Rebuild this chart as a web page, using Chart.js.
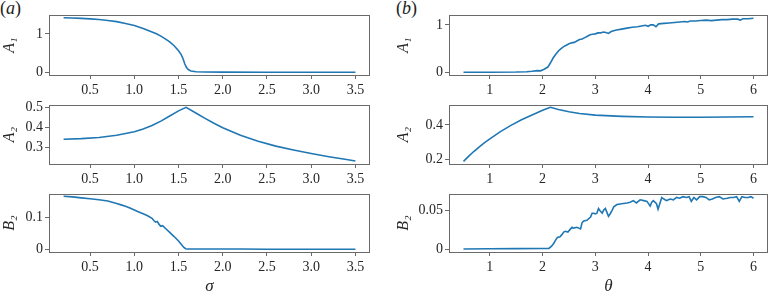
<!DOCTYPE html>
<html>
<head>
<meta charset="utf-8">
<script src="https://cdn.jsdelivr.net/npm/chart.js@4.4.0/dist/chart.umd.min.js"></script>
<style>
  html, body { margin: 0; padding: 0; background: #fff; }
  #wrap { position: relative; width: 769px; height: 297px; overflow: hidden; }
  #wrap canvas { position: absolute; }
  .tag { position: absolute; top: -2px; font: 18px 'Liberation Serif', serif; color: #222; }
</style>
</head>
<body>
<div id="wrap">
  <div class="tag" style="left:0px">(<i>a</i>)</div>
  <div class="tag" style="left:396px">(<i>b</i>)</div>
  <canvas id="sig-a1"></canvas>
  <canvas id="sig-a2"></canvas>
  <canvas id="sig-b2"></canvas>
  <canvas id="th-a1"></canvas>
  <canvas id="th-a2"></canvas>
  <canvas id="th-b2"></canvas>
</div>
<script>
// ---- data ----
// (a) sweep over sigma
const sigmaA1 = [0.2, 0.3, 0.4, 0.5, 0.6, 0.7, 0.8, 0.9, 1.0, 1.1,
                 1.2, 1.25, 1.3, 1.35, 1.4, 1.45, 1.5, 1.53, 1.55, 1.57,
                 1.59, 1.61, 1.64, 1.7, 1.8, 2.0, 2.5, 3.0, 3.5];
const a1Sigma = [1.418, 1.412, 1.403, 1.39, 1.372, 1.348, 1.318, 1.27, 1.215, 1.14,
                 1.05, 1.0, 0.94, 0.87, 0.79, 0.69, 0.56, 0.46, 0.36, 0.22,
                 0.12, 0.07, 0.035, 0.015, 0.006, 0.003, 0.002, 0.001, 0.001];

const sigmaA2 = [0.2, 0.4, 0.6, 0.8, 1.0, 1.1, 1.2, 1.3, 1.4, 1.5,
                 1.585, 1.7, 1.8, 1.9, 2.0, 2.2, 2.4, 2.6, 2.8, 3.0,
                 3.2, 3.4, 3.5];
const a2Sigma = [0.340, 0.343, 0.349, 0.36, 0.378, 0.392, 0.41, 0.432, 0.458, 0.484,
                 0.502, 0.472, 0.446, 0.421, 0.398, 0.36, 0.33, 0.305, 0.285, 0.267,
                 0.251, 0.237, 0.229];

const sigmaB2 = [0.2, 0.3, 0.4, 0.5, 0.6, 0.7, 0.75, 0.8, 0.85, 0.9,
                 0.95, 1.0, 1.05, 1.1, 1.15, 1.2, 1.22, 1.24, 1.26, 1.28,
                 1.3, 1.32, 1.35, 1.4, 1.45, 1.5, 1.53, 1.56, 1.58, 1.6,
                 1.8, 2.0, 2.2, 2.5, 3.0, 3.5];
const b2Sigma = [0.166, 0.164, 0.161, 0.158, 0.155, 0.151, 0.147, 0.143, 0.139, 0.135,
                 0.129, 0.123, 0.117, 0.111, 0.105, 0.097, 0.09, 0.085, 0.087, 0.078,
                 0.072, 0.074, 0.066, 0.053, 0.04, 0.026, 0.016, 0.006, 0.002, 0.001,
                 0.001, 0.001, 0.001, 0.0005, 0.0003, 0.0002];

// (b) sweep over theta
const thetaA1 = [0.5, 1.0, 1.5, 1.7, 1.8, 1.9, 1.96, 2.02, 2.1, 2.15,
                 2.2, 2.25, 2.3, 2.35, 2.4, 2.45, 2.5, 2.55, 2.6, 2.65,
                 2.7, 2.75, 2.8, 2.85, 2.9, 2.95, 3.0, 3.05, 3.1, 3.15,
                 3.2, 3.25, 3.3, 3.4, 3.5, 3.6, 3.7, 3.8, 3.9, 3.95,
                 4.0, 4.05, 4.1, 4.15, 4.2, 4.3, 4.4, 4.5, 4.6, 4.7,
                 4.75, 4.8, 4.9, 5.0, 5.1, 5.2, 5.3, 5.4, 5.5, 5.6,
                 5.7, 5.75, 5.8, 5.9, 6.0];
const a1Theta = [0, 0, 0.005, 0.012, 0.02, 0.035, 0.03, 0.06, 0.11, 0.2,
                 0.3, 0.38, 0.45, 0.5, 0.54, 0.57, 0.6, 0.62, 0.63, 0.66,
                 0.69, 0.7, 0.73, 0.76, 0.79, 0.8, 0.81, 0.83, 0.83, 0.85,
                 0.84, 0.82, 0.86, 0.89, 0.91, 0.93, 0.95, 0.96, 0.98, 0.99,
                 0.97, 1.0, 1.0, 0.96, 1.02, 1.03, 1.04, 1.05, 1.06, 1.07,
                 1.06, 1.08, 1.08, 1.09, 1.1, 1.09, 1.1, 1.11, 1.11, 1.12,
                 1.12, 1.1, 1.13, 1.13, 1.14];

const thetaA2 = [0.5, 0.6, 0.7, 0.8, 0.9, 1.0, 1.2, 1.4, 1.6, 1.8,
                 2.0, 2.1, 2.15, 2.3, 2.5, 2.7, 3.0, 3.5, 4.0, 4.5,
                 5.0, 5.5, 6.0];
const a2Theta = [0.19, 0.22, 0.248, 0.274, 0.298, 0.32, 0.362, 0.398, 0.43, 0.458,
                 0.485, 0.497, 0.502, 0.49, 0.476, 0.466, 0.457, 0.45, 0.446, 0.445,
                 0.445, 0.446, 0.448];

const thetaB2 = [0.5, 1.0, 1.5, 2.0, 2.12, 2.17, 2.21, 2.25, 2.28, 2.33,
                 2.37, 2.4, 2.43, 2.48, 2.53, 2.56, 2.59, 2.65, 2.72, 2.75,
                 2.78, 2.84, 2.91, 2.94, 2.97, 3.0, 3.03, 3.06, 3.09, 3.13,
                 3.16, 3.19, 3.22, 3.25, 3.28, 3.32, 3.35, 3.41, 3.5, 3.6,
                 3.66, 3.72, 3.78, 3.85, 3.92, 3.98, 4.04, 4.07, 4.1, 4.16,
                 4.19, 4.26, 4.3, 4.35, 4.42, 4.48, 4.54, 4.6, 4.66, 4.73,
                 4.78, 4.82, 4.87, 4.92, 4.98, 5.04, 5.1, 5.16, 5.22, 5.28,
                 5.35, 5.42, 5.5, 5.56, 5.62, 5.68, 5.73, 5.78, 5.84, 5.9,
                 5.95, 6.0];
const b2Theta = [0.0005, 0.0008, 0.0009, 0.001, 0.0012, 0.004, 0.0075, 0.012, 0.015, 0.016,
                 0.019, 0.022, 0.023, 0.022, 0.026, 0.028, 0.027, 0.028, 0.026, 0.034,
                 0.036, 0.037, 0.041, 0.046, 0.046, 0.045, 0.046, 0.052, 0.049, 0.046,
                 0.05, 0.052, 0.047, 0.042, 0.045, 0.05, 0.054, 0.057, 0.058, 0.059,
                 0.06, 0.062, 0.059, 0.063, 0.062, 0.061, 0.055, 0.06, 0.062, 0.058,
                 0.051, 0.066, 0.064, 0.062, 0.064, 0.063, 0.066, 0.065, 0.067, 0.066,
                 0.067, 0.061, 0.066, 0.063, 0.067, 0.067, 0.066, 0.063, 0.064, 0.066,
                 0.067, 0.064, 0.065, 0.066, 0.066, 0.067, 0.061, 0.067, 0.066, 0.066,
                 0.067, 0.065];

// tick values / labels
const sigmaTicks = [0.5, 1.0, 1.5, 2.0, 2.5, 3.0, 3.5];
const sigmaTickLabels = ['0.5', '1.0', '1.5', '2.0', '2.5', '3.0', '3.5'];
const thetaTicks = [1, 2, 3, 4, 5, 6];
const thetaTickLabels = ['1', '2', '3', '4', '5', '6'];
const sigA1Ticks = [0, 1], sigA1Labels = ['0', '1'];
const sigA2Ticks = [0.3, 0.4, 0.5], sigA2Labels = ['0.3', '0.4', '0.5'];
const sigB2Ticks = [0, 0.1], sigB2Labels = ['0', '0.1'];
const thA1Ticks = [0, 1], thA1Labels = ['0', '1'];
const thA2Ticks = [0.2, 0.4], thA2Labels = ['0.2', '0.4'];
const thB2Ticks = [0, 0.05], thB2Labels = ['0', '0.05'];

// axis limits (data range plus 5% margin, like the original)
const sigmaRange = [0.035, 3.665];
const thetaRange = [0.225, 6.275];

// ---- styling ----
const LINE = '#1f77b4';
const SPINE = '#6a6a6a';
const TEXT = '#262626';
const SERIF = "'Liberation Serif', serif";

// full frame round each plot area
const boxPlugin = {
    id: 'box',
    afterDraw(chart) {
        const a = chart.chartArea;
        const ctx = chart.ctx;
        ctx.save();
        ctx.strokeStyle = SPINE;
        ctx.lineWidth = 1;
        ctx.strokeRect(a.left + 0.5, a.top + 0.5, a.right - a.left - 1, a.bottom - a.top);
        ctx.restore();
    }
};

function pairs(xs, ys) {
    return xs.map((x, i) => ({ x: x, y: ys[i] }));
}

function makePanel(id, box, xs, ys, xAxis, yAxis) {
    const canvas = document.getElementById(id);
    canvas.width = box.w;
    canvas.height = box.h;
    canvas.style.left = box.left + 'px';
    canvas.style.top = box.top + 'px';
    canvas.style.width = box.w + 'px';
    canvas.style.height = box.h + 'px';

    new Chart(canvas.getContext('2d'), {
        type: 'line',
        data: {
            datasets: [{
                data: pairs(xs, ys),
                borderColor: LINE,
                borderWidth: 1.6,
                pointRadius: 0,
                tension: 0,
                fill: false
            }]
        },
        plugins: [boxPlugin],
        options: {
            responsive: false,
            animation: false,
            devicePixelRatio: 1,
            layout: { padding: { top: box.padTop, right: box.padRight, left: 0, bottom: 0 } },
            plugins: { legend: { display: false }, tooltip: { enabled: false } },
            scales: {
                x: {
                    type: 'linear',
                    min: xAxis.range[0],
                    max: xAxis.range[1],
                    afterBuildTicks: s => { s.ticks = xAxis.ticks.map(v => ({ value: v })); },
                    afterFit: s => { s.height = box.xh; s.paddingLeft = 0; s.paddingRight = 0; },
                    grid: { display: true, drawOnChartArea: false, tickLength: 4, tickColor: SPINE },
                    border: { display: false },
                    ticks: {
                        autoSkip: false, maxRotation: 0, padding: 3, color: TEXT,
                        font: { family: SERIF, size: 14 },
                        callback: (v, i) => xAxis.labels[i]
                    },
                    title: {
                        display: !!xAxis.title, text: xAxis.title || '', color: TEXT,
                        font: { family: SERIF, size: 17, style: 'italic' },
                        padding: { top: 0, bottom: 0 }
                    }
                },
                y: {
                    type: 'linear',
                    min: yAxis.range[0],
                    max: yAxis.range[1],
                    afterBuildTicks: s => { s.ticks = yAxis.ticks.map(v => ({ value: v })); },
                    afterFit: s => { s.width = box.yw; s.paddingTop = 0; s.paddingBottom = 0; },
                    grid: { display: true, drawOnChartArea: false, tickLength: 4, tickColor: SPINE },
                    border: { display: false },
                    ticks: {
                        autoSkip: false, padding: 2, color: TEXT,
                        font: { family: SERIF, size: 14 },
                        callback: (v, i) => yAxis.labels[i]
                    },
                    title: {
                        display: true, text: yAxis.title, color: TEXT,
                        font: { family: SERIF, size: 16, style: 'italic' },
                        padding: { top: box.titlePad, bottom: 0 }
                    }
                }
            }
        }
    });
}

// panel boxes: canvas position/size, chart-area paddings
const leftCol = { left: 0, w: 380, padRight: 10, yw: 49, titlePad: 0 };
const rightCol = { left: 380, w: 389, padRight: 1, yw: 69, titlePad: 14 };
const row1 = { top: 0, h: 100, padTop: 15, xh: 25 };
const row2 = { top: 95, h: 95, padTop: 10, xh: 26 };
const row3 = { top: 185, h: 112, padTop: 9, xh: 45 };

const sigX = { range: sigmaRange, ticks: sigmaTicks, labels: sigmaTickLabels };
const thX = { range: thetaRange, ticks: thetaTicks, labels: thetaTickLabels };

makePanel('sig-a1', { ...leftCol, ...row1 }, sigmaA1, a1Sigma, sigX,
    { range: [-0.071, 1.49], ticks: sigA1Ticks, labels: sigA1Labels, title: 'A₁' });
makePanel('sig-a2', { ...leftCol, ...row2 }, sigmaA2, a2Sigma, sigX,
    { range: [0.214, 0.514], ticks: sigA2Ticks, labels: sigA2Labels, title: 'A₂' });
makePanel('sig-b2', { ...leftCol, ...row3 }, sigmaB2, b2Sigma, { ...sigX, title: 'σ' },
    { range: [-0.0083, 0.173], ticks: sigB2Ticks, labels: sigB2Labels, title: 'B₂' });

makePanel('th-a1', { ...rightCol, ...row1 }, thetaA1, a1Theta, thX,
    { range: [-0.0575, 1.2075], ticks: thA1Ticks, labels: thA1Labels, title: 'A₁' });
makePanel('th-a2', { ...rightCol, ...row2 }, thetaA2, a2Theta, thX,
    { range: [0.1745, 0.5155], ticks: thA2Ticks, labels: thA2Labels, title: 'A₂' });
makePanel('th-b2', { ...rightCol, ...row3 }, thetaB2, b2Theta, { ...thX, title: 'θ' },
    { range: [-0.0034, 0.0704], ticks: thB2Ticks, labels: thB2Labels, title: 'B₂' });
</script>
</body>
</html>
